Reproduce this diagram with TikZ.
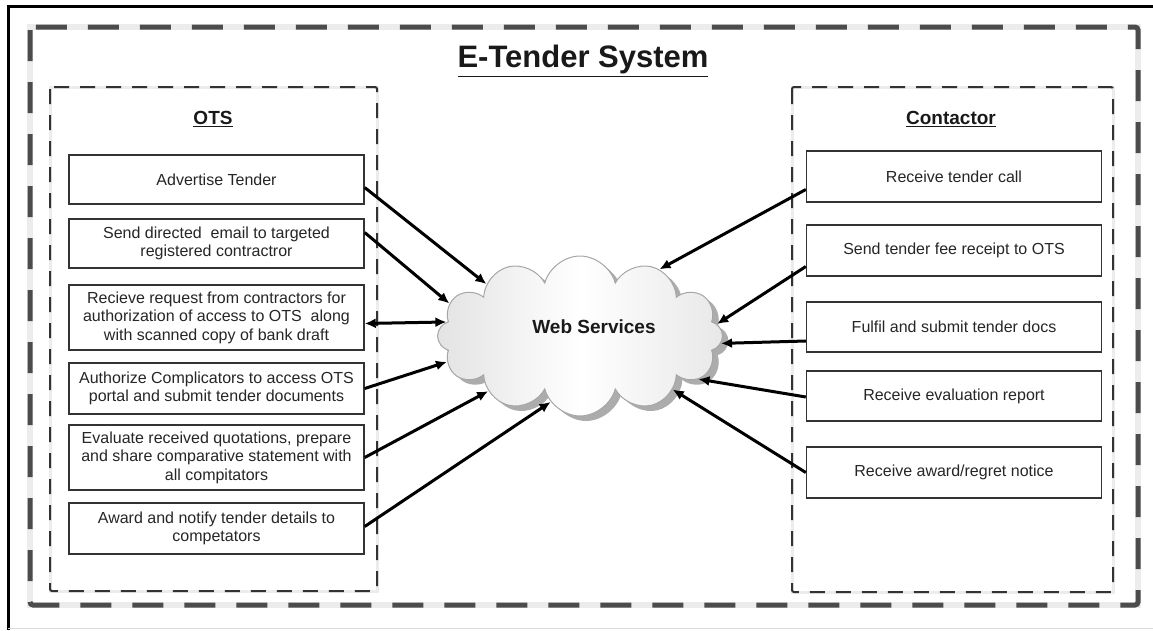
\documentclass[tikz,border=0pt]{standalone}
\usepackage{amsmath}
\usepackage{fontspec}
\setmainfont{Liberation Sans}
\usetikzlibrary{shapes.symbols,shadows,arrows.meta}
\tikzstyle{task}=[rectangle, draw=black!80, line width=1.4pt, fill=white,
	text=black!85, minimum width=295pt, align=center, inner sep=2pt,
	font=\fontsize{16}{18.5}\selectfont]
\tikzstyle{head}=[anchor=base, text=black!90,
	font=\fontsize{19}{22}\selectfont\bfseries]
\tikzstyle{link}=[line width=3pt, -{Latex[length=11pt,width=10pt]}]
\tikzstyle{panel}=[draw=black!80, line width=2pt, dash pattern=on 15pt off 11pt,
	rounded corners=2pt]

\begin{document}
\begin{tikzpicture}[x=1pt,y=-1pt]
\useasboundingbox (0,0) rectangle (1153,630);
\draw[line width=3pt] (1153,6) -- (8,6) -- (8,630);
\draw[gray!30] (8,628) -- (1153,628);
\draw[gray!15, line width=6.5pt] (30,27) rectangle (1138,605);
\draw[black!70, line width=5pt, dash pattern=on 31pt off 21pt,
	rounded corners=3pt] (30,27) rectangle (1138,605);
\draw[gray!15, line width=3pt] (50,87) rectangle (377,591)
	(792,87) rectangle (1113,592);
\draw[panel] (50,87) rectangle (377,591);
\draw[panel] (792,87) rectangle (1113,592);

\node[head, font=\fontsize{31}{36}\selectfont\bfseries] (title) at (583,67)
	{\underline{E-Tender System}};
\node[head] (ots) at (213,124) {\underline{OTS}};
\node[head] (con) at (951,124) {\underline{Contactor}};

% OTS side
\node[task, minimum height=49pt] (adv) at (216.5,179.5) {Advertise Tender};
\node[task, minimum height=49pt] (mail) at (216.5,243.5)
	{Send directed~ email to targeted\\registered contractror};
\node[task, minimum height=65pt] (req) at (216.5,317.5)
	{Recieve request from contractors for\\authorization of access to OTS~ along\\with scanned copy of bank draft};
\node[task, minimum height=51pt] (auth) at (216.5,388.5)
	{Authorize Complicators to access OTS\\portal and submit tender documents};
\node[task, minimum height=65pt] (eval) at (216.5,457.5)
	{Evaluate received quotations, prepare\\and share comparative statement with\\all compitators};
\node[task, minimum height=51pt] (award) at (216.5,528.5)
	{Award and notify tender details to\\competators};

% contractor side
\node[task, minimum height=51pt] (call) at (954,176.5) {Receive tender call};
\node[task, minimum height=51pt] (fee) at (954,250.5) {Send tender fee receipt to OTS};
\node[task, minimum height=50pt] (docs) at (954,327) {Fulfil and submit tender docs};
\node[task, minimum height=50pt] (report) at (954,396) {Receive evaluation report};
\node[task, minimum height=51pt] (notice) at (954,472.5) {Receive award/regret notice};

\node[cloud, cloud puffs=12, aspect=1.8, minimum width=285pt, minimum height=160pt,
	draw=gray!70, line width=1pt, left color=gray!22, right color=gray!18,
	middle color=white,
	drop shadow={shadow xshift=6pt, shadow yshift=-5pt, fill=gray!65, opacity=1}]
	(web) at (580,336) {};
\node[font=\fontsize{19}{22}\selectfont\bfseries, text=black!90] (webtxt) at (594,327)
	{Web Services};

\foreach \from/\dy/\to in {adv/-8/151, mail/11/166, auth/0/191, eval/0/211, award/2/246}
	\draw[link] ([yshift=\dy pt]\from.east) -- (web.\to);
\draw[link, {Latex[length=11pt,width=10pt]}-{Latex[length=11pt,width=10pt]}]
	([yshift=-6pt]req.east) -- (web.174);
\foreach \from/\dy/\to in {call/-13/40, fee/-16/5, docs/-14/357, report/-1/340, notice/0/330}
	\draw[link] ([yshift=\dy pt]\from.west) -- (web.\to);
\end{tikzpicture}
\end{document}
